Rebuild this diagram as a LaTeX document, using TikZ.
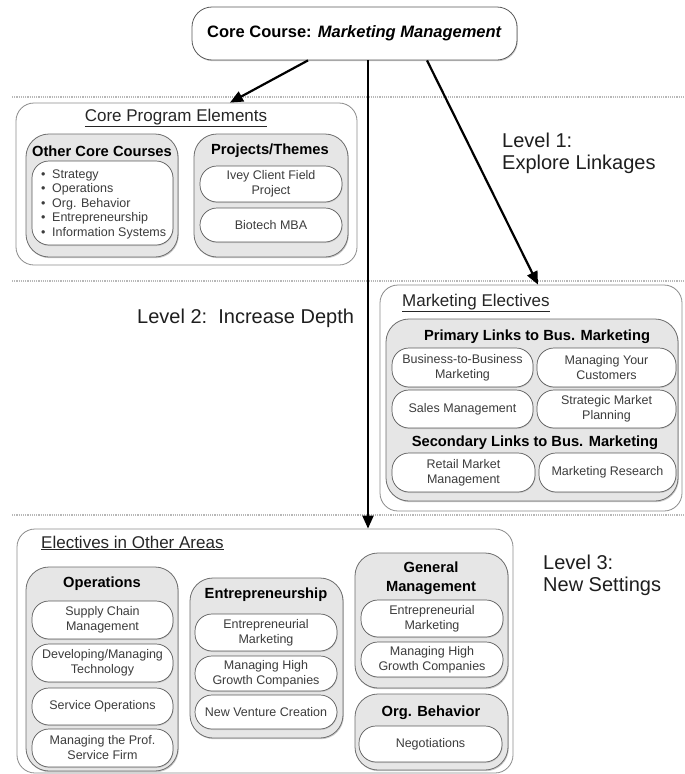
\documentclass[tikz,border=0pt]{standalone}
\usepackage{fontspec}
\setmainfont{Liberation Sans}
\usetikzlibrary{arrows.meta,shadows}

\definecolor{frameC}{HTML}{8C8C8C}
\definecolor{panelC}{HTML}{E6E6E6}
\definecolor{panelLine}{HTML}{6E6E6E}
\definecolor{itemLine}{HTML}{5A5A5A}
\definecolor{itemText}{HTML}{3C3C3C}
\definecolor{sepC}{HTML}{B8B8B8}
\definecolor{levelC}{HTML}{1E1E1E}

\tikzset{
  area/.style={draw=frameC, line width=0.8pt, fill=white, rounded corners=18pt, inner sep=0pt},
  panel/.style={draw=panelLine, line width=0.8pt, fill=panelC, rounded corners=23pt, inner sep=0pt,
    general shadow={fill=gray!40, shadow xshift=0.8pt, shadow yshift=-1.2pt}},
  item/.style={draw=itemLine, line width=0.7pt, fill=white, rounded corners=17pt, inner sep=0pt,
    align=center, text=itemText, font=\fontsize{12.5}{15}\selectfont,
    general shadow={fill=gray!40, shadow xshift=0.6pt, shadow yshift=-1pt}},
  topbox/.style={draw=itemLine, line width=0.8pt, fill=white, rounded corners=20pt, inner sep=0pt,
    font=\fontsize{16.5}{19}\selectfont\bfseries,
    general shadow={fill=gray!40, shadow xshift=0.8pt, shadow yshift=-1.2pt}},
  sectitle/.style={inner sep=0pt, font=\fontsize{17}{20}\selectfont, text=black!85},
  ptitle/.style={inner sep=0pt, align=center, font=\fontsize{14.7}{19}\selectfont\bfseries},
  listtext/.style={inner sep=0pt, align=left, text=itemText, font=\fontsize{12.5}{14.5}\selectfont},
  level/.style={inner sep=0pt, align=left, text=levelC, font=\fontsize{20}{22}\selectfont},
  sepline/.style={draw=sepC, line width=1.2pt, densely dotted},
  arr/.style={draw=black, line width=2.2pt, -{Triangle[length=13pt,width=11pt]}}
}

% box from corner (x1,y1) to corner (x2,y2), y growing downwards
\newcommand\bx[7]{%
  \pgfmathsetmacro\bxw{#5-#3}\pgfmathsetmacro\bxh{#6-#4}%
  \node[#2, minimum width=\bxw pt, minimum height=\bxh pt] (#1) at ({(#3+#5)/2},{(#4+#6)/2}) {#7};}
\newcommand\blt[1]{\makebox[11pt][l]{\textbullet}#1}

\begin{document}
\begin{tikzpicture}[x=1pt,y=-1pt]
  \path[use as bounding box, fill=white] (0,0) rectangle (685,774);

  % level separators
  \draw[sepline] (12,97) -- (685,97);
  \draw[sepline] (12,281) -- (685,281);
  \draw[sepline] (12,515) -- (685,515);

  % core course
  \bx{top}{topbox}{192}{7}{517}{60}{Core Course: \textit{Marketing Management}}

  % core program elements
  \bx{cpe}{area}{16}{103}{357}{265}{}
  \node[sectitle] (cpeT) at (176,118) {\underline{Core Program Elements}};
  \bx{occ}{panel}{26}{134}{178}{257}{}
  \node[ptitle] (occT) at (102,151) {Other Core Courses};
  \bx{occL}{item}{32}{161}{173}{245}{}
  \node[listtext, anchor=west] (occTx) at (41,204) {\blt{Strategy}\\ \blt{Operations}\\ \blt{Org. Behavior}\\ \blt{Entrepreneurship}\\ \blt{Information Systems}};
  \bx{pth}{panel}{194}{134}{348}{257}{}
  \node[ptitle] (pthT) at (270,151) {Projects/Themes};
  \bx{ivey}{item}{200}{166}{342}{202}{Ivey Client Field\\Project}
  \bx{bio}{item}{200}{208}{342}{242}{Biotech MBA}

  % marketing electives
  \bx{mkt}{area}{380}{285}{682}{511}{}
  \node[sectitle, anchor=west] (mktT) at (402,303) {\underline{Marketing Electives}};
  \bx{prim}{panel}{386}{319}{678}{501}{}
  \node[ptitle] (primT) at (537,337) {Primary Links to Bus. Marketing};
  \bx{btb}{item}{392}{348}{533}{387}{Business-to-Business\\Marketing}
  \bx{myc}{item}{537}{348}{676}{387}{Managing Your\\Customers}
  \bx{sal}{item}{392}{390}{533}{428}{Sales Management}
  \bx{smp}{item}{537}{390}{676}{428}{Strategic Market\\Planning}
  \node[ptitle] (secT) at (535,443) {Secondary Links to Bus. Marketing};
  \bx{rmm}{item}{392}{453}{535}{492}{Retail Market\\Management}
  \bx{mres}{item}{539}{453}{676}{492}{Marketing Research}

  % electives in other areas
  \bx{eoa}{area}{17}{529}{513}{773}{}
  \node[sectitle, anchor=west] (eoaT) at (41,543) {\underline{Electives in Other Areas}};

  \bx{ops}{panel}{26}{567}{178}{771}{}
  \node[ptitle] (opsT) at (102,584) {Operations};
  \bx{scm}{item}{32}{601}{173}{639}{Supply Chain\\Management}
  \bx{dmt}{item}{32}{644}{173}{682}{Developing/Managing\\Technology}
  \bx{sop}{item}{32}{688}{173}{725}{Service Operations}
  \bx{psf}{item}{32}{729}{173}{767}{Managing the Prof.\\Service Firm}

  \bx{ent}{panel}{190}{578}{343}{738}{}
  \node[ptitle] (entT) at (266,595) {Entrepreneurship};
  \bx{entA}{item}{195}{614}{337}{651}{Entrepreneurial\\Marketing}
  \bx{entB}{item}{195}{656}{337}{691}{Managing High\\Growth Companies}
  \bx{entC}{item}{195}{695}{337}{729}{New Venture Creation}

  \bx{gm}{panel}{355}{553}{508}{688}{}
  \node[ptitle] (gmT) at (431,578.5) {General\\Management};
  \bx{gmA}{item}{361}{600}{503}{637}{Entrepreneurial\\Marketing}
  \bx{gmB}{item}{361}{642}{503}{677}{Managing High\\Growth Companies}

  \bx{ob}{panel}{355}{694}{508}{770}{}
  \node[ptitle] (obT) at (431,713) {Org. Behavior};
  \bx{neg}{item}{359}{726}{502}{762}{Negotiations}

  % level labels
  \node[level, anchor=west] (lv1) at (502,153) {Level 1:\\Explore Linkages};
  \node[level, anchor=west] (lv2) at (137,318) {Level 2:\ \ Increase Depth};
  \node[level, anchor=west] (lv3) at (543,575.5) {Level 3:\\New Settings};

  % connectors
  \coordinate (a1s) at (308,0);
  \coordinate (a1e) at (230,0);
  \coordinate (a2) at (368,0);
  \coordinate (a3s) at (427,0);
  \coordinate (a3e) at (538,0);
  \draw[arr] (top.south -| a1s) -- (cpe.north -| a1e);
  \draw[arr] (top.south -| a2) -- (eoa.north -| a2);
  \draw[arr] (top.south -| a3s) -- (mkt.north -| a3e);
\end{tikzpicture}
\end{document}
